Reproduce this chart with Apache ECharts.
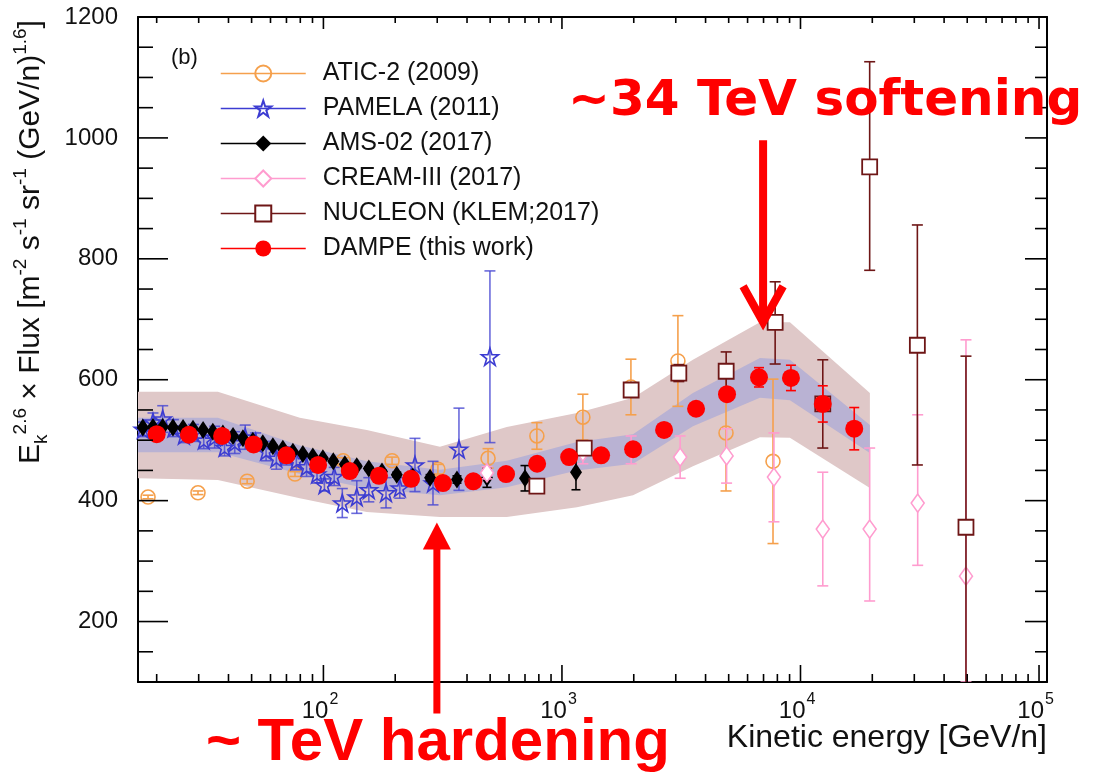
<!DOCTYPE html>
<html>
<head>
<meta charset="utf-8">
<script src="https://cdn.jsdelivr.net/npm/echarts@6/dist/echarts.min.js"></script>
<style>
  html, body { margin: 0; padding: 0; background: #fff; }
  #chart { width: 1105px; height: 777px; }
</style>
</head>
<body>
<div id="chart"></div>
<script>
// Proton spectrum multiplied by E^2.6, several experiments.

// ---- axes ----
const X_MIN = 16.7, X_MAX = 108000;
const Y_MIN = 100, Y_MAX = 1200;
const X_MAJOR = [100, 1000, 10000, 100000];
const X_MINOR = [20, 30, 40, 50, 60, 70, 80, 90,
  200, 300, 400, 500, 600, 700, 800, 900,
  2000, 3000, 4000, 5000, 6000, 7000, 8000, 9000,
  20000, 30000, 40000, 50000, 60000, 70000, 80000, 90000];
const Y_MAJOR = [200, 400, 600, 800, 1000, 1200];
const Y_MINOR = [150, 250, 300, 350, 450, 500, 550, 650, 700, 750, 850, 900, 950, 1050, 1100, 1150];

// ---- ATIC-2 (2009) ----
const ATIC_E = [18.4, 29.8, 47.9, 76, 121, 194, 302, 490, 785, 1224, 1946, 3063, 4873, 7670];
const ATIC_V = [406, 413, 432, 444, 466, 466, 452, 470, 507, 538, 588, 631, 512, 465];
const ATIC_ERR = [3, 3, 4, 4, 5, 6, 8, 16, 22, 38, 46, 75, 96, 136];

// ---- PAMELA (2011) ----
const PAM_E = [17.5, 19.3, 21.2, 23.5, 26, 28.5, 31.5, 35, 38.5, 42.5, 47, 52, 57.5, 63.5, 70, 77, 85, 94,
  101, 111, 120, 138, 155, 183, 209, 242, 288, 370, 499];
const PAM_V = [518, 530, 535, 520, 508, 512, 500, 505, 488, 496, 505, 497, 482, 470, 474, 466, 456, 444,
  426, 440, 396, 406, 418, 413, 421, 459, 429, 485, 638];
const PAM_ERR = [12, 15, 22, 14, 12, 14, 14, 18, 14, 18, 20, 15, 16, 18, 15, 15, 16, 15,
  10, 15, 24, 27, 20, 25, 17, 44, 36, 68, 142];

// ---- AMS-02 (2017) ----
const AMS_E = [17.5, 19.3, 21.2, 23.4, 25.8, 28.4, 31.3, 34.4, 37.9, 41.8, 46, 50.6, 55.7, 61.4, 67.6, 74.5,
  82, 90.3, 99.5, 110, 123, 138, 155, 176, 203, 237, 280, 363, 485, 700, 1145];
const AMS_V = [521, 522, 522, 521, 520, 519, 517, 514, 511, 507, 503, 499, 495, 490, 486, 481,
  477, 473, 470, 465, 460, 457, 453, 448, 443, 440, 438, 435, 438, 437, 447];
const AMS_ERR = [2, 2, 2, 2, 2, 2, 2, 2, 2, 2, 2, 2, 2, 2, 2, 2,
  2, 2, 2, 3, 3, 3, 3, 3, 4, 4, 5, 6, 16, 21, 29];

// ---- CREAM-III (2017) ----
const CREAM_E = [485, 1224, 1950, 3130, 4900, 7740, 12400, 19500, 31000, 49400];
const CREAM_V = [446, 480, 484, 472, 474, 439, 353, 353, 396, 275];
const CREAM_LO = [10, 19, 23, 35, 45, 74, 94, 119, 103, 175];
const CREAM_HI = [10, 19, 23, 35, 45, 73, 94, 134, 146, 391];

// ---- NUCLEON (KLEM; 2017) ----
const NUC_E = [785, 1240, 1950, 3090, 4880, 7830, 12400, 19500, 30900, 49400];
const NUC_V = [424, 487, 583, 611, 614, 695, 560, 952, 657, 356];
const NUC_LO = [6, 8, 10, 14, 32, 69, 73, 171, 198, 283];
const NUC_HI = [6, 8, 10, 14, 32, 67, 73, 174, 199, 283];

// ---- DAMPE ----
const DAMPE_E = [20, 27.3, 37.6, 51, 70, 95, 129, 171, 233, 317, 425, 583, 787, 1072, 1459, 1987,
  2680, 3650, 4920, 6700, 9120, 12400, 16800];
const DAMPE_V = [510, 509, 507, 493, 475, 459, 449, 441, 436, 429, 432, 444, 461, 472, 475, 485,
  517, 552, 576, 604, 603, 560, 519];
const DAMPE_ERR = [2, 2, 2, 2, 2, 2, 2, 2, 3, 3, 3, 3, 4, 4, 5, 6, 7, 8, 10, 16, 21, 30, 35];

// DAMPE uncertainty bands: statistical+systematic (outer) and systematic (inner)
const BAND_E = [16.7, 36.1, 79.6, 152, 308, 587, 1156, 1986, 3540, 6760, 9030, 19540];
const OUTER_HI = [580, 580, 537, 517, 489, 522, 545, 570, 633, 695, 695, 578];
const OUTER_LO = [437, 434, 404, 381, 373, 373, 389, 409, 457, 505, 504, 421];
const INNER_HI = [537, 537, 491, 465, 451, 466, 497, 510, 578, 636, 633, 525];
const INNER_LO = [480, 480, 444, 420, 409, 422, 450, 461, 523, 570, 566, 479];

// ---- annotation anchors (data space) ----
const SOFT_E = 6970, SOFT_TIP = 695, SOFT_TAIL = 996;
const HARD_E = 299, HARD_TIP = 364;

const FONT = '"Liberation Sans", Arial, Helvetica, sans-serif';
const STAR = 'path://M50,2 L61.2,36.2 L97,36.2 L68,57.4 L79.1,91.6 L50,70.4 L20.9,91.6 L32,57.4 L3,36.2 L38.8,36.2 Z';

const sets = [
  { name: 'ATIC-2 (2009)', E: ATIC_E, V: ATIC_V, lo: ATIC_ERR, hi: ATIC_ERR, color: '#f5a04c',
    bar: '#f5a04c', symbol: 'circle', size: 14, fill: 'rgba(255,255,255,0)', bw: 1.6, cap: 11 },
  { name: 'PAMELA (2011)', E: PAM_E, V: PAM_V, lo: PAM_ERR, hi: PAM_ERR, color: '#3c3cd2',
    bar: 'rgba(70,70,210,0.8)', symbol: STAR, size: 17, fill: 'rgba(255,255,255,0)', bw: 1.6, cap: 11 },
  { name: 'AMS-02 (2017)', E: AMS_E, V: AMS_V, lo: AMS_ERR, hi: AMS_ERR, color: '#000000',
    bar: '#000000', symbol: 'diamond', size: [12, 18], fill: '#000000', bw: 0, cap: 9 },
  { name: 'CREAM-III (2017)', E: CREAM_E, V: CREAM_V, lo: CREAM_LO, hi: CREAM_HI, color: '#ff9ccf',
    bar: '#ff9ccf', symbol: 'diamond', size: [13, 18], fill: '#ffffff', bw: 1.6, cap: 11 },
  { name: 'NUCLEON (KLEM;2017)', E: NUC_E, V: NUC_V, lo: NUC_LO, hi: NUC_HI, color: '#6e1616',
    bar: '#6e1616', symbol: 'rect', size: 15, fill: '#ffffff', bw: 1.8, cap: 11 },
  { name: 'DAMPE (this work)', E: DAMPE_E, V: DAMPE_V, lo: DAMPE_ERR, hi: DAMPE_ERR, color: '#ff0000',
    bar: '#ff0000', symbol: 'circle', size: 18, fill: '#ff0000', bw: 0, cap: 10 }
];

function bandSeries(hi, lo, fill, z) {
  return {
    type: 'custom', silent: true, clip: true, z: z,
    xAxisIndex: 0, yAxisIndex: 0,
    data: BAND_E.map((e, i) => [e, lo[i], hi[i]]),
    encode: { x: 0, y: [1, 2] },
    renderItem: (params, api) => {
      if (params.dataIndex !== 0) return { type: 'group', children: [] };
      const top = BAND_E.map((e, i) => api.coord([e, hi[i]]));
      const bottom = BAND_E.map((e, i) => api.coord([e, lo[i]])).reverse();
      return { type: 'polygon', shape: { points: top.concat(bottom) }, style: { fill: fill } };
    }
  };
}

function errorSeries(s, z) {
  return {
    type: 'custom', silent: true, clip: true, z: z,
    xAxisIndex: 0, yAxisIndex: 0,
    data: s.E.map((e, i) => [e, s.V[i] - s.lo[i], s.V[i] + s.hi[i]]),
    encode: { x: 0, y: [1, 2] },
    renderItem: (params, api) => {
      const a = api.coord([api.value(0), api.value(1)]);
      const b = api.coord([api.value(0), api.value(2)]);
      const x = a[0], h = s.cap / 2;
      const st = { stroke: s.bar, lineWidth: 1.6 };
      return {
        type: 'group', children: [
          { type: 'line', shape: { x1: x, y1: a[1], x2: x, y2: b[1] }, style: st },
          { type: 'line', shape: { x1: x - h, y1: a[1], x2: x + h, y2: a[1] }, style: st },
          { type: 'line', shape: { x1: x - h, y1: b[1], x2: x + h, y2: b[1] }, style: st }
        ]
      };
    }
  };
}

function markerSeries(s, z) {
  return {
    type: 'line', name: s.name, silent: true, z: z,
    xAxisIndex: 0, yAxisIndex: 0,
    data: s.E.map((e, i) => [e, s.V[i]]),
    symbol: s.symbol, symbolSize: s.size, showSymbol: true,
    itemStyle: { color: s.fill, borderColor: s.color, borderWidth: s.bw },
    lineStyle: { color: s.color, width: 1.5, opacity: 0 },
    emphasis: { disabled: true }
  };
}

// Inward tick marks on all four sides of the frame, placed through the axis scales;
// decade ticks on the energy axis also carry their 10^n labels.
function tickSeries(vals, dir, len, lenOpp, labelled) {
  return {
    type: 'custom', silent: true, clip: false, z: 60,
    xAxisIndex: 0, yAxisIndex: 0,
    data: vals.map(v => dir === 'x' ? [v, Y_MIN] : [X_MIN, v]),
    encode: { x: 0, y: 1 },
    renderItem: (params, api) => {
      const cs = params.coordSys;
      const p = api.coord([api.value(0), api.value(1)]);
      const st = { stroke: '#000', lineWidth: 1.6 };
      if (dir === 'x') {
        const b = cs.y + cs.height, t = cs.y;
        const kids = [
          { type: 'line', shape: { x1: p[0], y1: b, x2: p[0], y2: b - len }, style: st },
          { type: 'line', shape: { x1: p[0], y1: t, x2: p[0], y2: t + lenOpp }, style: st }
        ];
        if (labelled) {
          const exp = String(Math.round(Math.log10(api.value(0))));
          kids.push({ type: 'text', x: p[0] + 5, y: b + 29, style: { text: '10',
            font: '24px "Liberation Sans", Arial, sans-serif',
            fill: '#111', align: 'right', verticalAlign: 'middle' } });
          kids.push({ type: 'text', x: p[0] + 6, y: b + 18, style: { text: exp,
            font: '16px "Liberation Sans", Arial, sans-serif',
            fill: '#111', align: 'left', verticalAlign: 'middle' } });
        }
        return { type: 'group', children: kids };
      }
      const l = cs.x, r = cs.x + cs.width;
      return { type: 'group', children: [
        { type: 'line', shape: { x1: l, y1: p[1], x2: l + len, y2: p[1] }, style: st },
        { type: 'line', shape: { x1: r, y1: p[1], x2: r - lenOpp, y2: p[1] }, style: st }
      ] };
    }
  };
}

const series = [
  bandSeries(OUTER_HI, OUTER_LO, '#dfc8c8', 1),
  bandSeries(INNER_HI, INNER_LO, '#b9b2d3', 2)
];
sets.forEach((s, k) => {
  series.push(errorSeries(s, 3 + 2 * k));
  series.push(markerSeries(s, 4 + 2 * k));
});
series.push(tickSeries(X_MAJOR, 'x', 17, 12, true));
series.push(tickSeries(X_MINOR, 'x', 8, 6, false));
series.push(tickSeries(Y_MAJOR, 'y', 30, 22, false));
series.push(tickSeries(Y_MINOR, 'y', 15, 12, false));

const axisBlack = { color: '#000', width: 2 };

const option = {
  animation: false,
  backgroundColor: '#ffffff',
  grid: { left: 138, right: 58, top: 17, bottom: 95, containLabel: false },
  xAxis: [
    {
      type: 'log', logBase: 10, min: X_MIN, max: X_MAX, position: 'bottom',
      axisLine: { show: true, onZero: false, lineStyle: axisBlack },
      axisTick: { show: false }, axisLabel: { show: false }, splitLine: { show: false }
    },
    {
      type: 'log', logBase: 10, min: X_MIN, max: X_MAX, position: 'top',
      axisLine: { show: true, onZero: false, lineStyle: axisBlack },
      axisTick: { show: false }, axisLabel: { show: false }, splitLine: { show: false }
    }
  ],
  yAxis: [
    {
      type: 'value', min: Y_MIN, max: Y_MAX, position: 'left',
      axisLine: { show: true, onZero: false, lineStyle: axisBlack },
      axisTick: { show: false },
      axisLabel: {
        show: true, customValues: Y_MAJOR, margin: 20, color: '#111', fontFamily: FONT, fontSize: 24,
        formatter: (v) => String(v)
      },
      splitLine: { show: false }
    },
    {
      type: 'value', min: Y_MIN, max: Y_MAX, position: 'right',
      axisLine: { show: true, onZero: false, lineStyle: axisBlack },
      axisTick: { show: false }, axisLabel: { show: false }, splitLine: { show: false }
    }
  ],
  legend: {
    orient: 'vertical', left: 215, top: 56,
    itemWidth: 85, itemHeight: 20, itemGap: 10,
    selectedMode: false,
    data: sets.map(s => s.name),
    lineStyle: { opacity: 1, width: 1.5 },
    textStyle: { fontFamily: FONT, fontSize: 25, lineHeight: 24, color: '#111', padding: [0, 0, 0, 12] }
  },
  series: series
};

const chart = echarts.init(document.getElementById('chart'), null, { renderer: 'canvas' });
chart.setOption(option);

// Titles and annotations, anchored to data coordinates where they point at the spectrum
const toPx = (p) => chart.convertToPixel({ xAxisIndex: 0, yAxisIndex: 0 }, p);
const downTip = toPx([SOFT_E, SOFT_TIP]);
const downTail = toPx([SOFT_E, SOFT_TAIL]);
const upTip = toPx([HARD_E, HARD_TIP]);
const RED = '#ff0000';

chart.setOption({
  graphic: [
    {
      type: 'text', x: 31, y: 242, rotation: Math.PI / 2, silent: true,
      style: {
        text: 'E{sub|k}{sup|2.6} × Flux [m{sup|-2} s{sup|-1} sr{sup|-1} (GeV/n){sup|1.6}]',
        fontFamily: FONT, fontSize: 30, lineHeight: 40, fill: '#111',
        align: 'center', verticalAlign: 'middle',
        rich: {
          sup: { fontFamily: FONT, fontSize: 19, lineHeight: 19, verticalAlign: 'top', fill: '#111' },
          sub: { fontFamily: FONT, fontSize: 19, lineHeight: 19, verticalAlign: 'bottom', fill: '#111' }
        }
      }
    },
    {
      type: 'text', x: 1047, y: 738, silent: true,
      style: { text: 'Kinetic energy [GeV/n]', fontFamily: FONT, fontSize: 32, fill: '#111',
        align: 'right', verticalAlign: 'middle' }
    },
    {
      type: 'text', x: 171, y: 58, silent: true,
      style: { text: '(b)', fontFamily: FONT, fontSize: 22, fill: '#111', align: 'left', verticalAlign: 'middle' }
    },
    // softening arrow
    {
      type: 'line', silent: true, z: 100,
      shape: { x1: downTip[0], y1: downTail[1], x2: downTip[0], y2: downTip[1] - 4 },
      style: { stroke: RED, lineWidth: 8 }
    },
    {
      type: 'polyline', silent: true, z: 100,
      shape: { points: [[downTip[0] - 20, downTip[1] - 36], [downTip[0], downTip[1]], [downTip[0] + 20, downTip[1] - 36]] },
      style: { stroke: RED, lineWidth: 8, fill: null, lineJoin: 'miter' }
    },
    {
      type: 'text', x: downTip[0] + 62, y: downTail[1] - 38, silent: true, z: 100,
      style: { text: '~34 TeV softening', fontFamily: '"DejaVu Sans", Verdana, sans-serif', fontWeight: 'bold',
        fontSize: 50, fill: RED, align: 'center', verticalAlign: 'middle' }
    },
    // hardening arrow
    {
      type: 'polygon', silent: true, z: 100,
      shape: { points: [[upTip[0], upTip[1]], [upTip[0] - 14, upTip[1] + 27], [upTip[0] + 14, upTip[1] + 27]] },
      style: { fill: RED }
    },
    {
      type: 'line', silent: true, z: 100,
      shape: { x1: upTip[0], y1: upTip[1] + 22, x2: upTip[0], y2: upTip[1] + 191 },
      style: { stroke: RED, lineWidth: 7 }
    },
    {
      type: 'text', x: upTip[0] + 1, y: upTip[1] + 221, silent: true, z: 100,
      style: { text: '~ TeV hardening', fontFamily: FONT, fontWeight: 'bold',
        fontSize: 60, fill: RED, align: 'center', verticalAlign: 'middle' }
    }
  ]
});
</script>
</body>
</html>
